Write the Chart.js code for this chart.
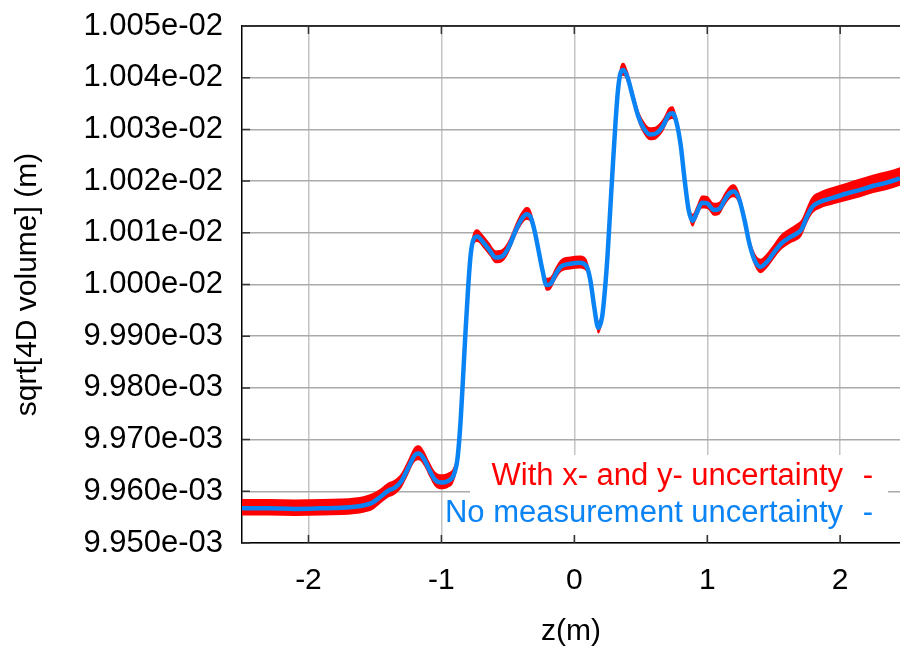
<!DOCTYPE html>
<html>
<head>
<meta charset="utf-8">
<title>sqrt[4D volume] vs z</title>
<script src="https://cdn.jsdelivr.net/npm/chart.js@4.4.1/dist/chart.umd.min.js"></script>
<style>
  html, body { margin: 0; padding: 0; background: #fff; overflow: hidden; }
  canvas { display: block; }
</style>
</head>
<body>
<canvas id="chart" width="900" height="650"></canvas>
<script>
// z position along the line (m)
const zPos = [
  -2.5, -2.3, -2.1, -1.9, -1.75, -1.65, -1.58, -1.52, -1.46, -1.40,
  -1.35, -1.30, -1.25, -1.20, -1.17, -1.13, -1.09, -1.05, -1.00, -0.95,
  -0.91, -0.88, -0.86, -0.84, -0.82, -0.80, -0.78, -0.76, -0.73, -0.69,
  -0.64, -0.59, -0.54, -0.49, -0.44, -0.39, -0.36, -0.33, -0.30, -0.27,
  -0.24, -0.21, -0.18, -0.14, -0.10, -0.03, 0.04, 0.09, 0.12, 0.15,
  0.18, 0.21, 0.23, 0.25, 0.27, 0.29, 0.31, 0.33, 0.35, 0.37,
  0.40, 0.44, 0.48, 0.52, 0.57, 0.62, 0.67, 0.71, 0.74, 0.77,
  0.80, 0.83, 0.86, 0.89, 0.92, 0.96, 1.00, 1.05, 1.09, 1.13,
  1.17, 1.20, 1.24, 1.28, 1.32, 1.36, 1.40, 1.45, 1.50, 1.56,
  1.62, 1.67, 1.71, 1.75, 1.79, 1.85, 1.95, 2.05, 2.15, 2.25,
  2.35, 2.45
];

// sqrt of the 4D volume without measurement uncertainty (m)
const noUncertainty = [
  9.9567e-3, 9.9567e-3, 9.9566e-3, 9.9567e-3, 9.9568e-3, 9.9570e-3, 9.9573e-3, 9.9578e-3, 9.9589e-3, 9.9601e-3,
  9.9607e-3, 9.9620e-3, 9.9645e-3, 9.9670e-3, 9.9673e-3, 9.9662e-3, 9.9641e-3, 9.9623e-3, 9.9617e-3, 9.9620e-3,
  9.9630e-3, 9.9661e-3, 9.9719e-3, 9.9806e-3, 9.9902e-3, 9.9989e-3, 10.0057e-3, 10.0086e-3, 10.0093e-3, 10.0083e-3,
  10.0067e-3, 10.0052e-3, 10.0055e-3, 10.0074e-3, 10.0105e-3, 10.0129e-3, 10.0136e-3, 10.0131e-3, 10.0105e-3, 10.0067e-3,
  10.0028e-3, 9.9999e-3, 10.0001e-3, 10.0020e-3, 10.0035e-3, 10.0040e-3, 10.0042e-3, 10.0036e-3, 10.0009e-3, 9.9956e-3,
  9.9916e-3, 9.9939e-3, 9.9989e-3, 10.0057e-3, 10.0144e-3, 10.0231e-3, 10.0314e-3, 10.0380e-3, 10.0411e-3, 10.0415e-3,
  10.0401e-3, 10.0363e-3, 10.0326e-3, 10.0303e-3, 10.0290e-3, 10.0293e-3, 10.0308e-3, 10.0328e-3, 10.0331e-3, 10.0312e-3,
  10.0270e-3, 10.0202e-3, 10.0144e-3, 10.0123e-3, 10.0138e-3, 10.0158e-3, 10.0157e-3, 10.0144e-3, 10.0146e-3, 10.0163e-3,
  10.0177e-3, 10.0180e-3, 10.0165e-3, 10.0125e-3, 10.0076e-3, 10.0045e-3, 10.0034e-3, 10.0044e-3, 10.0061e-3, 10.0080e-3,
  10.0091e-3, 10.0098e-3, 10.0107e-3, 10.0131e-3, 10.0150e-3, 10.0160e-3, 10.0168e-3, 10.0176e-3, 10.0183e-3, 10.0191e-3,
  10.0197e-3, 10.0205e-3
];

// spread of the x- and y- uncertainty run above / below that curve (um)
const spreadAbove = [
  1.8, 1.8, 1.8, 1.8, 1.8, 1.8, 1.8, 1.8, 1.6, 1.6,
  1.6, 1.6, 1.6, 1.6, 1.6, 1.6, 1.6, 1.6, 1.6, 1.6,
  1.6, 1.6, 1.4, 1.4, 1.4, 1.4, 1.4, 1.4, 1.4, 1.4,
  1.4, 1.4, 1.4, 1.4, 1.4, 1.4, 1.4, 1.4, 1.4, 1.4,
  1.4, 1.4, 1.4, 1.4, 1.4, 1.4, 1.4, 1.4, 1.4, 1.4,
  1.4, 1.4, 1.4, 1.4, 1.4, 1.4, 1.4, 1.4, 1.4, 1.4,
  1.4, 1.4, 1.4, 1.4, 1.4, 1.4, 1.4, 1.4, 1.4, 1.4,
  1.4, 1.4, 1.4, 1.4, 1.4, 1.4, 1.4, 1.4, 1.4, 1.4,
  1.4, 1.4, 1.4, 1.4, 1.4, 1.5, 1.6, 1.7, 1.7, 1.8,
  1.8, 1.9, 1.9, 1.9, 2.0, 2.0, 2.1, 2.1, 2.2, 2.2,
  2.2, 2.2
];
const spreadBelow = [
  1.4, 1.4, 1.4, 1.4, 1.4, 1.4, 1.4, 1.4, 1.3, 1.3,
  1.3, 1.3, 1.3, 1.3, 1.3, 1.3, 1.3, 1.3, 1.3, 1.3,
  1.3, 1.3, 1.1, 1.1, 1.1, 1.1, 1.1, 1.1, 1.1, 1.1,
  1.1, 1.1, 1.1, 1.1, 1.1, 1.1, 1.1, 1.1, 1.1, 1.1,
  1.1, 1.1, 1.1, 1.1, 1.1, 1.1, 1.1, 1.1, 1.1, 1.1,
  1.1, 1.1, 1.1, 1.1, 1.1, 1.1, 1.1, 1.1, 1.1, 1.1,
  1.1, 1.1, 1.1, 1.1, 1.1, 1.1, 1.1, 1.1, 1.1, 1.1,
  1.1, 1.1, 1.1, 1.1, 1.1, 1.1, 1.1, 1.1, 1.1, 1.1,
  1.1, 1.1, 1.1, 1.1, 1.1, 1.1, 1.2, 1.2, 1.2, 1.2,
  1.2, 1.3, 1.3, 1.3, 1.3, 1.3, 1.3, 1.4, 1.4, 1.4,
  1.4, 1.4
];

const xTicks = [-2, -1, 0, 1, 2];
const yTicks = [9.95e-3, 9.96e-3, 9.97e-3, 9.98e-3, 9.99e-3, 10.00e-3, 10.01e-3, 10.02e-3, 10.03e-3, 10.04e-3, 10.05e-3];

const legendLabels = ["With x- and y- uncertainty", "No measurement uncertainty"];
const RED = "#ff0000";
const BLUE = "#0a84f4";
const FONT = '"Liberation Sans", Arial, Helvetica, sans-serif';

const bluePts = zPos.map((z, i) => ({ x: z, y: noUncertainty[i] }));
const redHi = zPos.map((z, i) => ({ x: z, y: noUncertainty[i] + spreadAbove[i] * 1e-6 }));
const redLo = zPos.map((z, i) => ({ x: z, y: noUncertainty[i] - spreadBelow[i] * 1e-6 }));

function fmtExp(v) {
  // 1.005e-2 -> 1.005e-02
  return v.toExponential(3).replace(/e([+-])(\d)$/, "e$10$2");
}

// gnuplot-like frame: top border, inward tick marks and the key box
const framePlugin = {
  id: "frame",
  beforeDatasetsDraw(chart) {
    const { ctx } = chart;
    ctx.save();
    ctx.fillStyle = "#fff";
    ctx.fillRect(470, 455, 418, 80);
    ctx.restore();
  },
  afterDraw(chart) {
    const { ctx, chartArea: a, scales } = chart;
    ctx.save();
    ctx.strokeStyle = "#000";
    ctx.lineWidth = 1.5;
    ctx.beginPath();
    ctx.moveTo(a.left, a.top);
    ctx.lineTo(a.right, a.top);
    ctx.stroke();

    ctx.strokeStyle = "#333";
    ctx.beginPath();
    xTicks.forEach(t => {
      const px = scales.x.getPixelForValue(t);
      ctx.moveTo(px, a.bottom); ctx.lineTo(px, a.bottom - 8);
      ctx.moveTo(px, a.top); ctx.lineTo(px, a.top + 8);
    });
    yTicks.forEach(t => {
      const py = scales.y.getPixelForValue(t);
      ctx.moveTo(a.left, py); ctx.lineTo(a.left + 8, py);
    });
    ctx.stroke();

    ctx.font = "31px " + FONT;
    ctx.textBaseline = "middle";
    const rows = [[legendLabels[0], RED, 476], [legendLabels[1], BLUE, 513]];
    rows.forEach(([txt, col, y]) => {
      ctx.fillStyle = col;
      ctx.textAlign = "right";
      ctx.fillText(txt, 843, y);
      ctx.textAlign = "center";
      ctx.fillText("-", 868, y);
    });
    ctx.restore();
  }
};

new Chart(document.getElementById("chart").getContext("2d"), {
  type: "line",
  data: {
    datasets: [
      {
        label: legendLabels[1],
        data: bluePts,
        borderColor: BLUE,
        borderWidth: 4.5,
        pointRadius: 0,
        fill: false,
        cubicInterpolationMode: "monotone",
      },
      {
        label: "upper",
        data: redHi,
        borderWidth: 0,
        borderColor: RED,
        pointRadius: 0,
        fill: false,
        cubicInterpolationMode: "monotone",
      },
      {
        label: legendLabels[0],
        data: redLo,
        borderWidth: 0,
        borderColor: RED,
        backgroundColor: RED,
        pointRadius: 0,
        fill: 1,
        cubicInterpolationMode: "monotone",
      },
    ],
  },
  options: {
    responsive: false,
    animation: false,
    layout: { padding: { top: 26, right: 0, left: 0, bottom: 0 } },
    plugins: {
      legend: { display: false },
      tooltip: { enabled: false },
    },
    scales: {
      x: {
        type: "linear",
        min: -2.5,
        max: 2.45,
        afterBuildTicks: s => { s.ticks = xTicks.map(v => ({ value: v })); },
        afterFit: s => { s.height = 107; s.paddingLeft = 0; s.paddingRight = 0; },
        grid: { color: "#c4c4c4", lineWidth: 1.5, drawTicks: false },
        border: { color: "#000", width: 1.5 },
        ticks: {
          color: "#000",
          padding: 20,
          font: { family: FONT, size: 30 },
          callback: v => String(v),
        },
        title: {
          display: true,
          text: "z(m)",
          color: "#000",
          padding: { top: 0, bottom: 0 },
          font: { family: FONT, size: 30 },
        },
      },
      y: {
        min: 9.95e-3,
        max: 10.05e-3,
        afterBuildTicks: s => { s.ticks = yTicks.map(v => ({ value: v })); },
        afterFit: s => { s.width = 242; s.paddingTop = 0; s.paddingBottom = 0; },
        grid: { color: "#aaaaaa", lineWidth: 1.5, drawTicks: false },
        border: { color: "#000", width: 1.5 },
        ticks: {
          color: "#000",
          padding: 19,
          font: { family: FONT, size: 31 },
          callback: v => fmtExp(v),
        },
        title: {
          display: true,
          text: "sqrt[4D volume] (m)",
          color: "#000",
          padding: { top: 10, bottom: 0 },
          font: { family: FONT, size: 30 },
        },
      },
    },
  },
  plugins: [framePlugin],
});
</script>
</body>
</html>
